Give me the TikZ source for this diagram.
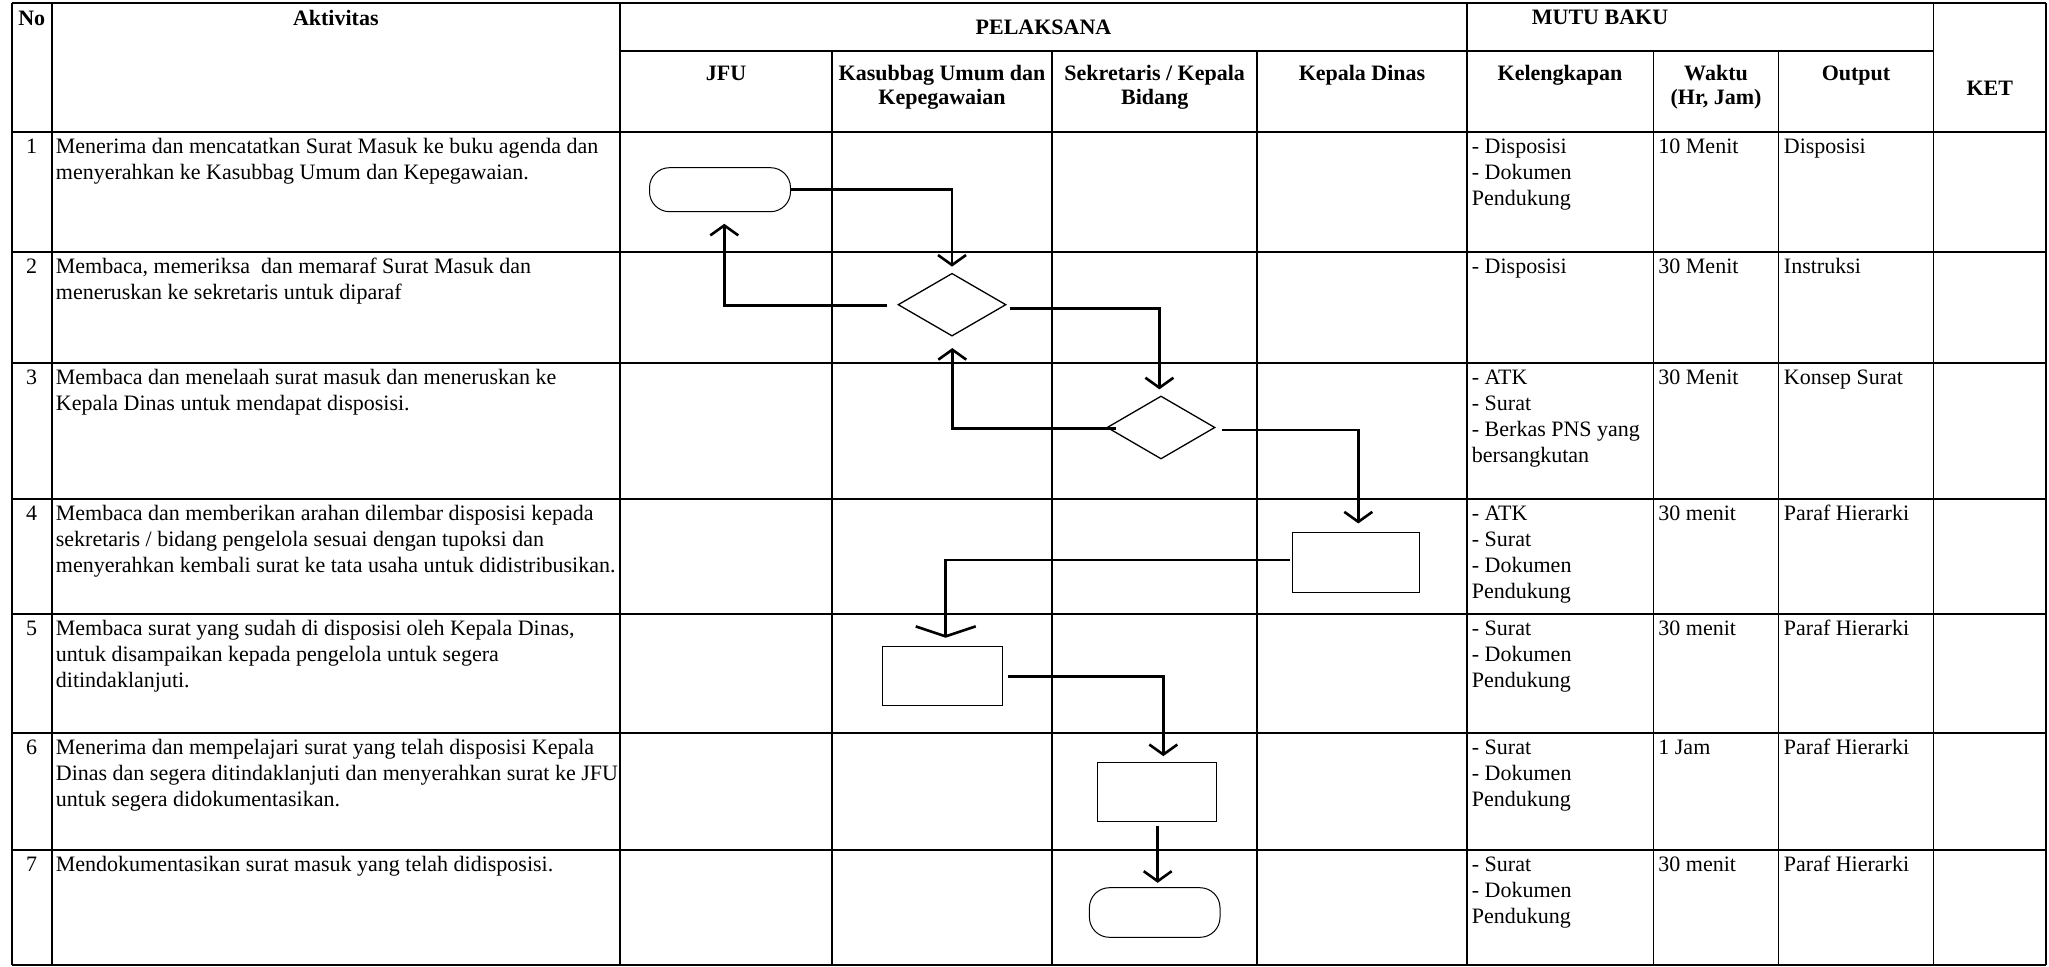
\documentclass[tikz,border=0pt]{standalone}
\usepackage{fontspec}
\setmainfont{Liberation Serif}
\usetikzlibrary{arrows.meta,shapes.geometric,calc}
\begin{document}
\begin{tikzpicture}[x=0.5pt,y=-0.5pt,
  grid/.style={line width=0.85pt},
  body/.style={anchor=north west, inner sep=0pt, align=left, font=\fontsize{11}{13}\selectfont},
  numc/.style={anchor=north, inner sep=0pt, font=\fontsize{11}{13}\selectfont},
  hdr/.style={anchor=north, inner sep=0pt, align=center, font=\fontsize{11}{12}\selectfont\bfseries},
  term/.style={draw, line width=0.5pt, rounded corners=10pt, inner sep=0pt},
  procbox/.style={draw, line width=0.55pt, inner sep=0pt},
  decis/.style={draw, diamond, line width=0.65pt, inner sep=0pt},
  arr/.style={line width=1.3pt, -{Straight Barb[length=5pt,width=14pt]}},
  arrw/.style={line width=1.3pt, -{Straight Barb[length=5pt,width=30pt]}},
]
\useasboundingbox (0,0) rectangle (2049,967);
\fill[white] (0,0) rectangle (2049,967);

% ---------- grid ----------
\draw[grid] (11.7,3) -- (2046,3);
\draw[grid] (620,51) -- (1933.6,51);
\draw[grid] (11.7,131.7) -- (2046,131.7);
\foreach \yy in {252.3,363.3,499.3,614.3,732.7,850.3,965}
  \draw[grid] (11.7,\yy) -- (2046,\yy);
\foreach \xx in {11.7,51.7,620,1467,1933.6,2046}
  \draw[grid] (\xx,3) -- (\xx,965);
\foreach \xx in {831.7,1052.3,1257,1653.6,1778.5}
  \draw[grid] (\xx,51) -- (\xx,965);

% ---------- header ----------
\node[hdr] (hNo) at (31.7,8.2) {\strut No};
\node[hdr] (hAkt) at (335.8,8.2) {\strut Aktivitas};
\node[hdr] (hPel) at (1043.5,17) {\strut PELAKSANA};
\node[hdr] (hMutu) at (1600,7.2) {\strut MUTU BAKU};
\node[hdr] (hJfu) at (726,63) {\strut JFU};
\node[hdr] (hKas) at (942,63) {\strut Kasubbag Umum dan\\Kepegawaian};
\node[hdr] (hSek) at (1154.7,63) {\strut Sekretaris / Kepala\\Bidang};
\node[hdr] (hKd) at (1362,63) {\strut Kepala Dinas};
\node[hdr] (hKel) at (1560,63) {\strut Kelengkapan};
\node[hdr] (hWak) at (1716,63) {\strut Waktu\\(Hr, Jam)};
\node[hdr] (hOut) at (1856,63) {\strut Output};
\node[hdr] (hKet) at (1989.8,78) {\strut KET};

% ---------- row 1 ----------
\node[numc] (n1) at (31.7,134.5) {\strut 1};
\node[body] (a1) at (55.5,134.5) {\strut Menerima dan mencatatkan Surat Masuk ke buku agenda dan\\menyerahkan ke Kasubbag Umum dan Kepegawaian.};
\node[body] (k1) at (1471.5,134.5) {\strut - Disposisi\\- Dokumen\\Pendukung};
\node[body] (w1) at (1658,134.5) {\strut 10 Menit};
\node[body] (o1) at (1783.5,134.5) {\strut Disposisi};

% ---------- row 2 ----------
\node[numc] (n2) at (31.7,255.1) {\strut 2};
\node[body] (a2) at (55.5,255.1) {\strut Membaca, memeriksa\ \ dan memaraf Surat Masuk dan\\meneruskan ke sekretaris untuk diparaf};
\node[body] (k2) at (1471.5,255.1) {\strut - Disposisi};
\node[body] (w2) at (1658,255.1) {\strut 30 Menit};
\node[body] (o2) at (1783.5,255.1) {\strut Instruksi};

% ---------- row 3 ----------
\node[numc] (n3) at (31.7,366.1) {\strut 3};
\node[body] (a3) at (55.5,366.1) {\strut Membaca dan menelaah surat masuk dan meneruskan ke\\Kepala Dinas untuk mendapat disposisi.};
\node[body] (k3) at (1471.5,366.1) {\strut - ATK\\- Surat\\- Berkas PNS yang\\bersangkutan};
\node[body] (w3) at (1658,366.1) {\strut 30 Menit};
\node[body] (o3) at (1783.5,366.1) {\strut Konsep Surat};

% ---------- row 4 ----------
\node[numc] (n4) at (31.7,502.1) {\strut 4};
\node[body] (a4) at (55.5,502.1) {\strut Membaca dan memberikan arahan dilembar disposisi kepada\\sekretaris / bidang pengelola sesuai dengan tupoksi dan\\menyerahkan kembali surat ke tata usaha untuk didistribusikan.};
\node[body] (k4) at (1471.5,502.1) {\strut - ATK\\- Surat\\- Dokumen\\Pendukung};
\node[body] (w4) at (1658,502.1) {\strut 30 menit};
\node[body] (o4) at (1783.5,502.1) {\strut Paraf Hierarki};

% ---------- row 5 ----------
\node[numc] (n5) at (31.7,617.1) {\strut 5};
\node[body] (a5) at (55.5,617.1) {\strut Membaca surat yang sudah di disposisi oleh Kepala Dinas,\\untuk disampaikan kepada pengelola untuk segera\\ditindaklanjuti.};
\node[body] (k5) at (1471.5,617.1) {\strut - Surat\\- Dokumen\\Pendukung};
\node[body] (w5) at (1658,617.1) {\strut 30 menit};
\node[body] (o5) at (1783.5,617.1) {\strut Paraf Hierarki};

% ---------- row 6 ----------
\node[numc] (n6) at (31.7,735.5) {\strut 6};
\node[body] (a6) at (55.5,735.5) {\strut Menerima dan mempelajari surat yang telah disposisi Kepala\\Dinas dan segera ditindaklanjuti dan menyerahkan surat ke JFU\\untuk segera didokumentasikan.};
\node[body] (k6) at (1471.5,735.5) {\strut - Surat\\- Dokumen\\Pendukung};
\node[body] (w6) at (1658,735.5) {\strut 1 Jam};
\node[body] (o6) at (1783.5,735.5) {\strut Paraf Hierarki};

% ---------- row 7 ----------
\node[numc] (n7) at (31.7,853.1) {\strut 7};
\node[body] (a7) at (55.5,853.1) {\strut Mendokumentasikan surat masuk yang telah didisposisi.};
\node[body] (k7) at (1471.5,853.1) {\strut - Surat\\- Dokumen\\Pendukung};
\node[body] (w7) at (1658,853.1) {\strut 30 menit};
\node[body] (o7) at (1783.5,853.1) {\strut Paraf Hierarki};

% ---------- flow shapes ----------
\node[term, minimum width=70.5pt, minimum height=22pt] (t1) at (720,189.7) {};
\node[decis, minimum width=54pt, minimum height=31.4pt] (d1) at (952,304.7) {};
\node[decis, minimum width=54pt, minimum height=31.5pt] (d2) at (1161,427.5) {};
\node[procbox, minimum width=63.3pt, minimum height=29.8pt] (b4) at (1355.8,562.3) {};
\node[procbox, minimum width=59.8pt, minimum height=29.5pt] (b5) at (942.4,675.8) {};
\node[procbox, minimum width=59.7pt, minimum height=29.7pt] (b6) at (1157,792) {};
\node[term, minimum width=65.3pt, minimum height=24.8pt] (t7) at (1154.7,912.5) {};

% ---------- connectors ----------
\draw[arr] (t1.east) -| ($(d1.north)+(0,-6)$);
\draw[arr] ($(d1.west)+(-10,0.6)$) -| ($(t1.south)+(4.3,11.6)$);
\draw[arr] ($(d1.east)+(3,3.6)$) -| ($(d2.north)+(-1.6,-6)$);
\draw[arr] ($(d2.west)+(10,0.8)$) -| ($(d1.south)+(0.3,11.3)$);
\draw[arr] ($(d2.east)+(6.7,2.5)$) -| ($(b4.north)+(2.5,-8.5)$);
\draw[arrw] ($(b4.west)+(-1.8,-2.3)$) -| ($(b5.north)+(3.3,-8)$);
\draw[arr] ($(b5.east)+(5,0.9)$) -| ($(b6.north)+(6.3,-5.6)$);
\draw[arr] ($(b6.south)+(0.7,3.3)$) -- ($(b6.south |- t7.north)+(0.7,-4.4)$);
\end{tikzpicture}
\end{document}
